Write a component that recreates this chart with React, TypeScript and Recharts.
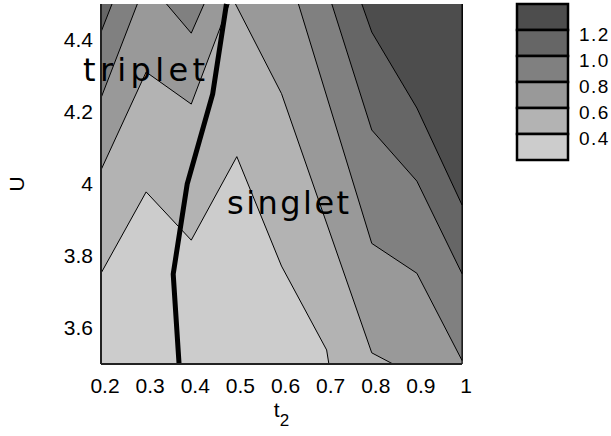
import React from "react";
import {
  Area,
  ComposedChart,
  Legend,
  Line,
  ReferenceDot,
  XAxis,
  YAxis,
} from "recharts";

// colour bar: darkest band on top, labels sit on the band boundaries
const bandColors = ["#4d4d4d", "#666666", "#808080", "#999999", "#b3b3b3", "#cccccc"];
const levelLabels = ["1.2", "1.0", "0.8", "0.6", "0.4"];

const xTicks = [0.2, 0.3, 0.4, 0.5, 0.6, 0.7, 0.8, 0.9, 1];
const yTicks = [3.6, 3.8, 4, 4.2, 4.4];

// filled regions (value above a level), traced in (t2, U) from the top edge back to it
const plotT = [0.2, 0.2, 1, 1];
const plotU = [4.5, 3.5, 3.5, 4.5];

const above04T = [0.2, 0.2, 0.3, 0.4, 0.501, 0.6, 0.7, 0.705, 1, 1];
const above04U = [4.5, 3.752, 3.978, 3.844, 4.076, 3.772, 3.539, 3.5, 3.5, 4.5];

const above06aT = [0.2, 0.2, 0.3, 0.4, 0.484];
const above06aU = [4.5, 4.039, 4.311, 4.222, 4.5];
const above06bT = [0.498, 0.6, 0.8, 0.847, 1, 1];
const above06bU = [4.5, 4.251, 3.531, 3.5, 3.5, 4.5];

const above08aT = [0.2, 0.2, 0.2805];
const above08aU = [4.5, 4.239, 4.5];
const above08bT = [0.3452, 0.4, 0.4284];
const above08bU = [4.5, 4.419, 4.5];
const above08cT = [0.6375, 0.8, 0.9, 1, 1];
const above08cU = [4.5, 3.835, 3.752, 3.51, 4.5];

const above10aT = [0.2, 0.2, 0.2244];
const above10aU = [4.5, 4.422, 4.5];
const above10bT = [0.7115, 0.8, 0.9, 1, 1];
const above10bU = [4.5, 4.15, 4.008, 3.751, 4.5];

const above12T = [0.778, 0.8, 0.9, 1, 1];
const above12U = [4.5, 4.422, 4.211, 3.942, 4.5];

// singlet / triplet boundary
const phaseT = [0.373, 0.36, 0.391, 0.4475, 0.478];
const phaseU = [3.5, 3.75, 4, 4.25, 4.5];

const regions = [
  { key: "plot", t: plotT, u: plotU, band: 5 },
  { key: "above04", t: above04T, u: above04U, band: 4 },
  { key: "above06a", t: above06aT, u: above06aU, band: 3 },
  { key: "above06b", t: above06bT, u: above06bU, band: 3 },
  { key: "above08a", t: above08aT, u: above08aU, band: 2 },
  { key: "above08b", t: above08bT, u: above08bU, band: 2 },
  { key: "above08c", t: above08cT, u: above08cU, band: 2 },
  { key: "above10a", t: above10aT, u: above10aU, band: 1 },
  { key: "above10b", t: above10bT, u: above10bU, band: 1 },
  { key: "above12", t: above12T, u: above12U, band: 0 },
];

const rows: Record<string, number>[] = [];
regions.forEach((r) => r.t.forEach((t, i) => rows.push({ t, [r.key]: r.u[i] })));
phaseT.forEach((t, i) => rows.push({ t, phase: phaseU[i] }));

const sans = "'Liberation Sans', Arial, sans-serif";
const frame = { stroke: "#222", strokeWidth: 2 };

function XTick(props: any) {
  const { x, y, payload } = props;
  return (
    <text x={x + 4} y={y} dy="0.71em" textAnchor="middle" fontSize={21} fontFamily={sans} fill="#000">
      {payload.value}
    </text>
  );
}

function xLabel(props: any) {
  const vb = props.viewBox;
  return (
    <text x={vb.x + vb.width / 2} y={vb.y + 53} textAnchor="middle" fontFamily={sans} fontSize={21} fill="#000">
      <tspan>t</tspan>
      <tspan dy={9} fontSize={17}>2</tspan>
    </text>
  );
}

function yLabel(props: any) {
  const vb = props.viewBox;
  const cx = vb.x + 16;
  const cy = vb.y + vb.height / 2;
  return (
    <text x={cx} y={cy} textAnchor="middle" dominantBaseline="central" transform={`rotate(-90, ${cx}, ${cy})`} fontFamily={sans} fontSize={21} fill="#000">
      U
    </text>
  );
}

const phaseLabel = (text: string) => (props: any) => {
  const vb = props.viewBox;
  return (
    <text x={vb.x + vb.width / 2} y={vb.y + vb.height / 2} textAnchor="middle" fontSize={32} fontFamily="'DejaVu Sans', sans-serif" textLength={122} lengthAdjust="spacing" fill="#000">
      {text}
    </text>
  );
};

function ColorBar() {
  return (
    <svg width={106} height={170} style={{ display: "block" }}>
      {bandColors.map((c, i) => (
        <rect key={c} x={12} y={4 + i * 26} width={51} height={26} fill={c} stroke="#000" strokeWidth={2.5} />
      ))}
      {levelLabels.map((l, i) => (
        <text key={l} x={74} y={4 + (i + 1) * 26 + 11} fontSize={19} fontFamily={sans} letterSpacing={1.5} fill="#000">
          {l}
        </text>
      ))}
    </svg>
  );
}

export default function App() {
  return (
    <div style={{ position: "absolute", left: 0, top: 0 }}>
      <ComposedChart width={611} height={436} data={rows} margin={{ top: 4, right: 149, bottom: 12, left: 0 }}>
        <XAxis
          dataKey="t"
          type="number"
          domain={[0.2, 1]}
          ticks={xTicks}
          interval={0}
          height={60}
          tickLine={false}
          tickMargin={8}
          tick={<XTick />}
          axisLine={frame}
          label={xLabel}
        />
        <XAxis xAxisId="top" dataKey="t" type="number" domain={[0.2, 1]} orientation="top" height={0} tick={false} tickLine={false} axisLine={frame} />
        <YAxis
          type="number"
          domain={[3.5, 4.5]}
          ticks={yTicks}
          interval={0}
          width={101}
          tickLine={false}
          tickMargin={2}
          tick={{ fontSize: 21, fontFamily: sans, fill: "#000" }}
          axisLine={frame}
          label={yLabel}
        />
        <YAxis yAxisId="right" orientation="right" type="number" domain={[3.5, 4.5]} width={0} tick={false} tickLine={false} axisLine={frame} />
        {regions.map((r) => (
          <Area
            key={r.key}
            dataKey={r.key}
            type="linear"
            baseValue={4.5}
            connectNulls
            fill={bandColors[r.band]}
            fillOpacity={1}
            stroke={r.key === "plot" ? "none" : "#000"}
            strokeWidth={1}
            dot={false}
            activeDot={false}
            isAnimationActive={false}
          />
        ))}
        <Line dataKey="phase" type="linear" connectNulls stroke="#000" strokeWidth={5} dot={false} activeDot={false} isAnimationActive={false} />
        <ReferenceDot x={0.2953} y={4.286} r={0} fill="none" stroke="none" ifOverflow="visible" label={phaseLabel("triplet")} />
        <ReferenceDot x={0.6146} y={3.917} r={0} fill="none" stroke="none" ifOverflow="visible" label={phaseLabel("singlet")} />
        <Legend layout="vertical" align="center" verticalAlign="middle" wrapperStyle={{ left: 505, top: 0, width: 106, height: 170 }} content={() => <ColorBar />} />
      </ComposedChart>
    </div>
  );
}
